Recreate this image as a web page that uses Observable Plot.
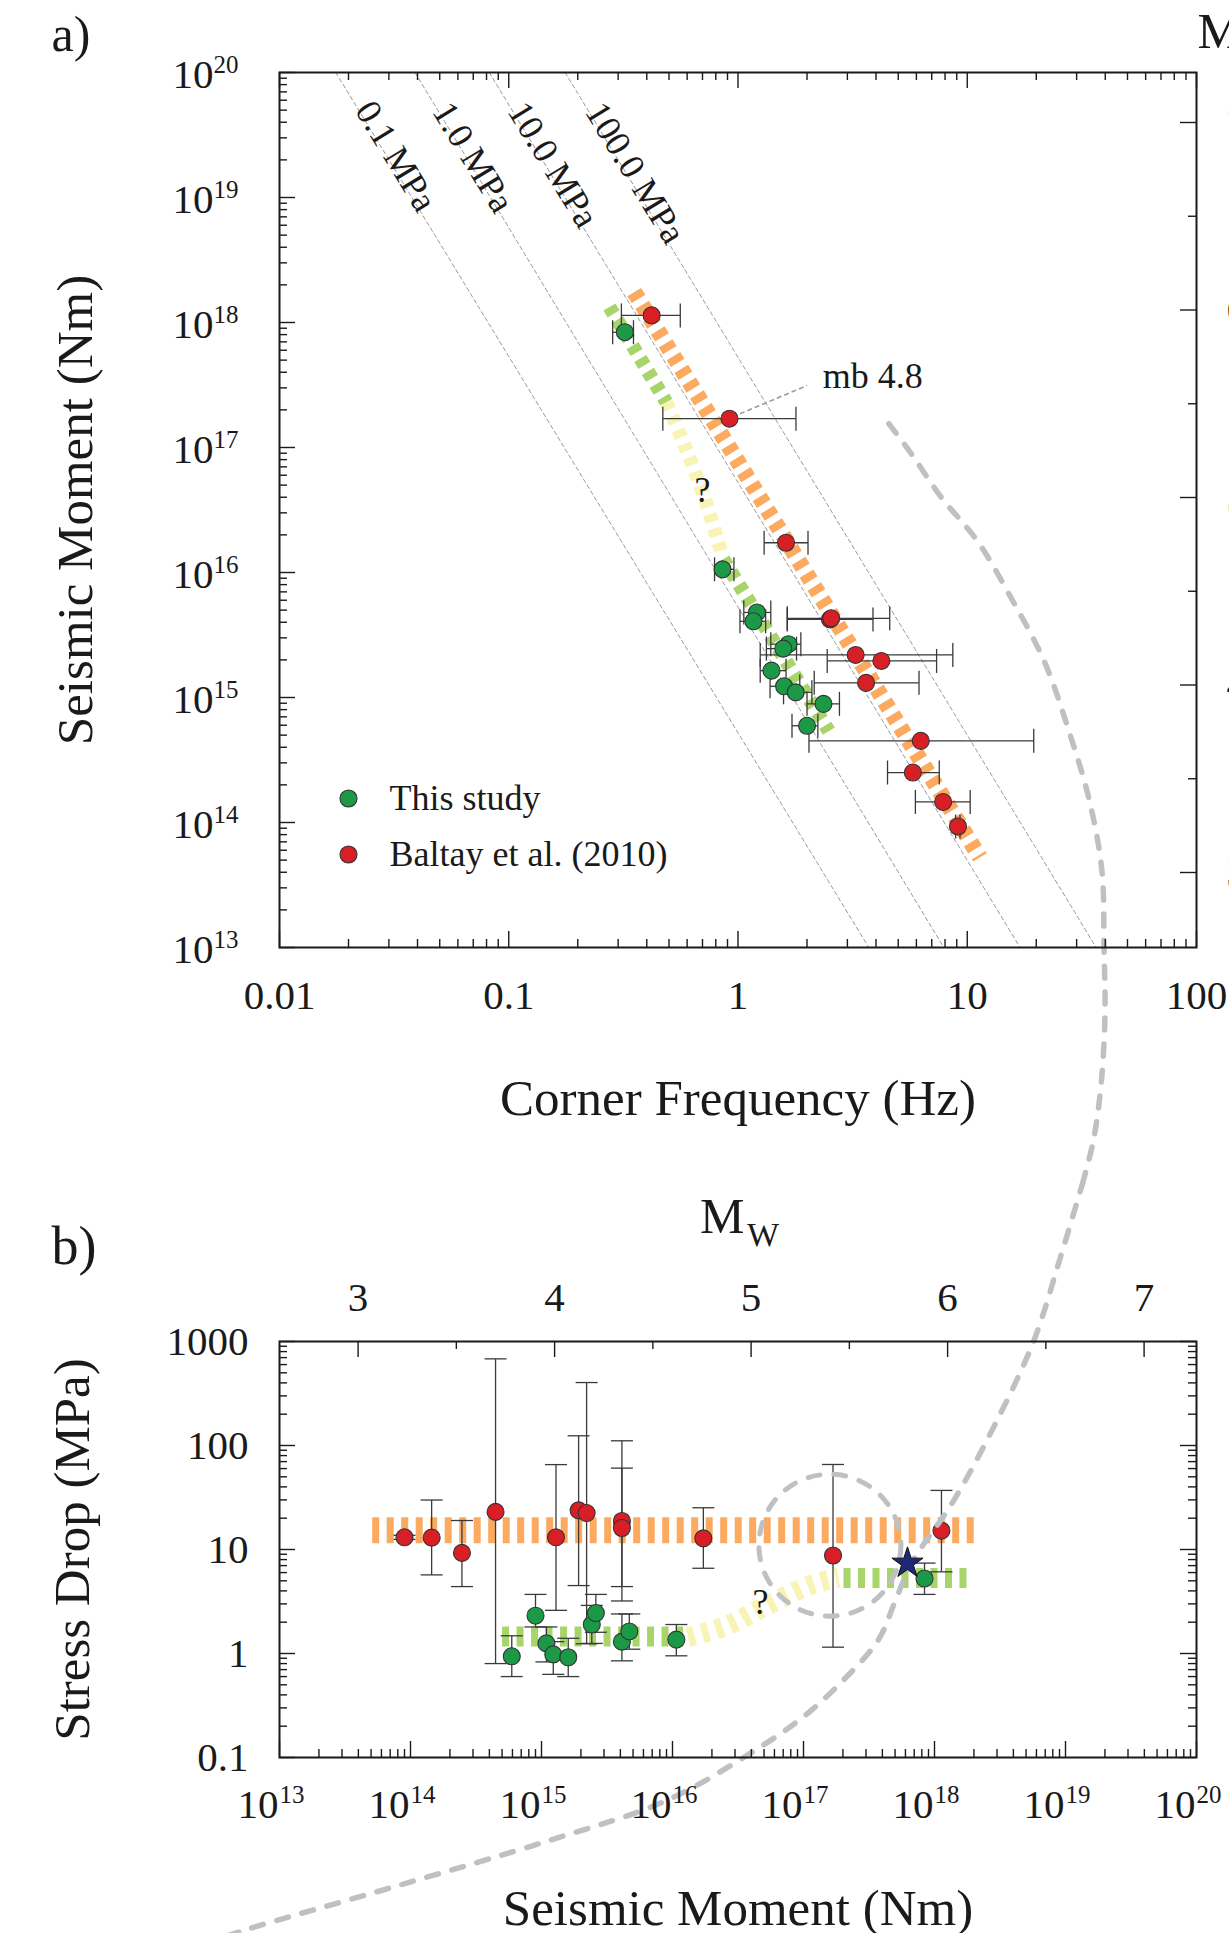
<!DOCTYPE html>
<html><head><meta charset="utf-8">
<script src="https://cdn.jsdelivr.net/npm/d3@7"></script>
<script src="https://cdn.jsdelivr.net/npm/@observablehq/plot@0.6"></script>
<style>
body{margin:0;background:#fff;}
#wrap{position:relative;width:1229px;height:1933px;overflow:hidden;background:#fff;}
#wrap svg{position:absolute;left:0;}
</style></head><body><div id="wrap"></div>
<script>
// ================= DATA =================
// Panel a: corner frequency (Hz) vs seismic moment (Nm)
const studyFc   = [0.321, 0.856, 1.21, 1.168, 1.66, 1.576, 1.40, 1.589, 1.785, 2.36, 2.00];
const studyM0a  = [8.36e17, 1.06e16, 4.79e15, 4.07e15, 2.67e15, 2.46e15, 1.64e15, 1.23e15, 1.10e15, 8.9e14, 5.94e14];
const studyFcLo = [0.284, 0.79, 1.06, 1.02, 1.39, 1.33, 1.25, 1.38, 1.58, 2.00, 1.72];
const studyFcHi = [0.35, 0.96, 1.39, 1.32, 1.88, 1.80, 1.62, 1.86, 2.10, 2.77, 2.23];

const baltayFc   = [0.42, 0.918, 1.62, 2.52, 2.55, 3.26, 4.22, 3.62, 6.27, 5.79, 7.85, 9.11];
const baltayM0a  = [1.14e18, 1.70e17, 1.73e16, 4.21e15, 4.30e15, 2.19e15, 1.96e15, 1.31e15, 4.5e14, 2.51e14, 1.46e14, 9.29e13];
const baltayFcLo = [0.31, 0.47, 1.30, 1.64, 1.64, 1.25, 2.45, 2.15, 2.04, 4.49, 5.94, 8.9];
const baltayFcHi = [0.56, 1.79, 2.02, 3.88, 4.59, 8.65, 7.35, 6.16, 19.5, 7.55, 10.3, 9.3];

// constant stress-drop reference lines (fc where each line meets M0 = 1e20 and 1e13)
const stressLabels   = ["0.1 MPa", "1.0 MPa", "10.0 MPa", "100.0 MPa"];
const stressFcTop    = [0.0176, 0.0390, 0.0822, 0.1762];
const stressFcBottom = [3.72, 7.9, 17.0, 36.5];
const stressLabelFc  = [0.0322, 0.0699, 0.156, 0.356];
const stressLabelM0  = [2.14e19, 2.10e19, 1.83e19, 1.57e19];

// trend bands, panel a
const baltayTrendFc = [0.353, 11.36];
const baltayTrendM0 = [1.75e18, 5.26e13];
const studyUpperFc = [0.275, 0.487];
const studyUpperM0 = [1.33e18, 2.3e17];
const studyGapFc   = [0.487, 0.581, 0.716, 0.855];
const studyGapM0   = [2.3e17, 1.07e17, 3.9e16, 1.35e16];
const studyLowerFc = [0.863, 2.49];
const studyLowerM0 = [1.28e16, 5.39e14];

// mb 4.8 annotation
const mbLabel = "mb 4.8";
const mbTextFc = [2.34], mbTextM0 = [2.97e17];
const mbLeadFc = [1.02, 2.0], mbLeadM0 = [1.86e17, 3.13e17];
const qFcA = [0.70], qM0A = [4.53e16];

// large grey dashed arc: part drawn in panel a coordinates
const arcFc  = [4.55, 5.71, 7.64, 11.13, 15.52, 21.64, 27.76, 34.15, 38.7, 39.5, 39.9, 38.5, 35.5, 32.1];
const arcM0a = [1.55e17, 8.87e16, 4.08e16, 1.76e16, 6.28e15, 1.96e15, 5.39e14, 1.48e14, 4.06e13, 9.82e12, 3.13e12, 8.63e11, 2.86e11, 1.37e11];

// Panel b: seismic moment (Nm) vs stress drop (MPa)
const baltayM0b  = [9.0e13, 1.45e14, 2.47e14, 4.46e14, 1.29e15, 1.92e15, 2.21e15, 4.11e15, 4.11e15, 1.72e16, 1.68e17, 1.13e18];
const baltaySd   = [13.1, 13.0, 9.28, 23.0, 13.1, 23.8, 22.4, 18.8, 16.1, 12.8, 8.76, 15.2];
const baltaySdLo = [12.5, 5.7, 4.4, 0.80, 2.6, 4.5, 1.24, 3.2, 4.4, 6.6, 1.15, 6.1];
const baltaySdHi = [13.7, 29.9, 19.0, 681, 65.5, 124, 403, 111, 60.6, 25.2, 65.7, 37];

const studyM0b  = [5.93e14, 9.0e14, 1.09e15, 1.23e15, 1.60e15, 2.42e15, 2.6e15, 4.11e15, 4.68e15, 1.07e16, 8.39e17];
const studySd   = [0.94, 2.31, 1.25, 0.98, 0.92, 1.90, 2.45, 1.30, 1.63, 1.36, 5.26];
const studySdLo = [0.60, 1.8, 0.83, 0.63, 0.60, 1.25, 1.6, 0.85, 1.1, 0.95, 3.7];
const studySdHi = [1.48, 3.7, 1.8, 1.3, 1.4, 2.9, 3.7, 2.4, 2.4, 1.9, 7.4];

const baltayBandM0 = [5.1e13, 2.0e18], baltayBandSd = [15.3, 15.3];
const studyLowM0   = [5.0e14, 1.31e16], studyLowSd = [1.46, 1.46];
const studyGapM0b  = [1.31e16, 2.54e16, 5.25e16, 1.17e17, 1.85e17];
const studyGapSd   = [1.44, 1.83, 2.9, 4.62, 5.33];
const studyHighM0  = [2.02e17, 2.0e18], studyHighSd = [5.33, 5.33];

const starM0 = [6.22e17], starSd = [7.38];
const circledM0 = [1.59e17], circledSd = [11.0];
const qM0B = [4.7e16], qSdB = [3.09];

// large grey dashed arc: part drawn in panel b coordinates
const arcM0b = [1.37e19, 9.16e18, 5.71e18, 2.87e18, 1.38e18, 6.68e17, 5.0e17, 3.74e17, 2.09e17, 1.01e17, 4.21e16, 9.0e15, 1.14e15, 7.3e13, 5.31e12, 2.5e12];
const arcSd  = [3.53e4, 6494, 1006, 156, 28.6, 7.38, 3.16, 1.36, 0.581, 0.249, 0.116, 0.0386, 0.0159, 0.00566, 0.00217, 0.00156];

// tick labels
const fcTickVals   = [0.01, 0.1, 1, 10, 100];
const fcTickLabels = ["0.01", "0.1", "1", "10", "100"];
const m0Exponents  = ["13", "14", "15", "16", "17", "18", "19", "20"];
const sdTickVals   = [0.1, 1, 10, 100, 1000];
const sdTickLabels = ["0.1", "1", "10", "100", "1000"];
const mwMajor = [3, 4, 5, 6, 7];
const mwMinor = [3.5, 4.5, 5.5, 6.5];
const legendLabels = ["This study", "Baltay et al. (2010)"];
const titles = {xA: "Corner Frequency (Hz)", yA: "Seismic Moment (Nm)", xB: "Seismic Moment (Nm)", yB: "Stress Drop (MPa)", mw: "M", mwSub: "W", a: "a)", b: "b)", q: "?"};

// ================= HELPERS =================
const mw2m0 = mw => Math.pow(10, 1.5 * mw + 9.1);
const idx = n => d3.range(n);
const isMajor = v => Math.abs(Math.log10(v) - Math.round(Math.log10(v))) < 1e-6;
const C = {red: "#d81f26", green: "#1b9947", orange: "#fbaa5f", lgreen: "#a8d46c", yellow: "#f8f4b6", navy: "#1f2878", arc: "#bfc0c4", err: "#3a3a3a", ink: "#1a1a1a"};
const vCap = {draw(ctx, size) { const r = Math.sqrt(size / Math.PI); ctx.moveTo(0, -r); ctx.lineTo(0, r); }};
const hCap = {draw(ctx, size) { const r = Math.sqrt(size / Math.PI); ctx.moveTo(-r, 0); ctx.lineTo(r, 0); }};
const tickStyle = {stroke: C.ink, strokeWidth: 1.4};
const MAJ = 16, MIN = 8;

function ticksX(vals, H, where) {
  return [
    Plot.ruleX(vals.filter(isMajor), {x: d => d, [where === "bottom" ? "insetTop" : "insetBottom"]: H - MAJ, ...tickStyle}),
    Plot.ruleX(vals.filter(v => !isMajor(v)), {x: d => d, [where === "bottom" ? "insetTop" : "insetBottom"]: H - MIN, ...tickStyle})
  ];
}
function ticksY(vals, Wd, where) {
  return [
    Plot.ruleY(vals.filter(isMajor), {y: d => d, [where === "left" ? "insetRight" : "insetLeft"]: Wd - MAJ, ...tickStyle}),
    Plot.ruleY(vals.filter(v => !isMajor(v)), {y: d => d, [where === "left" ? "insetRight" : "insetLeft"]: Wd - MIN, ...tickStyle})
  ];
}
function bandLine(xs, ys, color, w, dash) {
  return Plot.line(idx(xs.length), {x: i => xs[i], y: i => ys[i], stroke: color, strokeWidth: w, strokeDasharray: dash, curve: "catmull-rom", strokeLinecap: "butt"});
}
const svgStyle = {fontFamily: "'Liberation Serif', 'Times New Roman', serif", fontSize: "41px", color: C.ink, background: "transparent"};

// ================= PANEL A =================
const A = {W: 1229, H: 1180, top: 72, left: 279, right: 33, bottom: 233};
const AFh = A.H - A.top - A.bottom, AFw = A.W - A.left - A.right;
const stressData = stressLabels.flatMap((s, i) => [{s, f: stressFcTop[i], m: 1e20}, {s, f: stressFcBottom[i], m: 1e13}]);

const panelA = Plot.plot({
  width: A.W, height: A.H,
  marginTop: A.top, marginLeft: A.left, marginRight: A.right, marginBottom: A.bottom,
  style: svgStyle,
  x: {type: "log", domain: [0.01, 100], axis: null},
  y: {type: "log", domain: [1e13, 1e20], axis: null},
  marks: [
    Plot.line(stressData, {x: "f", y: "m", z: "s", stroke: "#9a9a9a", strokeWidth: 1, strokeDasharray: "4,3"}),
    bandLine(baltayTrendFc, baltayTrendM0, C.orange, 16, "8,7"),
    bandLine(studyUpperFc, studyUpperM0, C.lgreen, 14, "8,7"),
    bandLine(studyGapFc, studyGapM0, C.yellow, 14, "8,7"),
    bandLine(studyLowerFc, studyLowerM0, C.lgreen, 14, "8,7"),
    Plot.line(idx(arcFc.length), {x: i => arcFc[i], y: i => arcM0a[i], curve: "catmull-rom", stroke: C.arc, strokeWidth: 5.5, strokeDasharray: "12,14", strokeLinecap: "round"}),
    Plot.link([0], {x1: mbLeadFc[0], x2: mbLeadFc[1], y1: mbLeadM0[0], y2: mbLeadM0[1], stroke: "#9a9a9a", strokeWidth: 1.6, strokeDasharray: "5,3"}),
    // error bars
    Plot.link(idx(studyFc.length), {x1: i => studyFcLo[i], x2: i => studyFcHi[i], y1: i => studyM0a[i], y2: i => studyM0a[i], stroke: C.err, strokeWidth: 1.3}),
    Plot.dot(idx(studyFc.length), {x: i => studyFcLo[i], y: i => studyM0a[i], symbol: vCap, r: 12, fill: "none", stroke: C.err, strokeWidth: 1.3}),
    Plot.dot(idx(studyFc.length), {x: i => studyFcHi[i], y: i => studyM0a[i], symbol: vCap, r: 12, fill: "none", stroke: C.err, strokeWidth: 1.3}),
    Plot.link(idx(baltayFc.length), {x1: i => baltayFcLo[i], x2: i => baltayFcHi[i], y1: i => baltayM0a[i], y2: i => baltayM0a[i], stroke: C.err, strokeWidth: 1.3}),
    Plot.dot(idx(baltayFc.length), {x: i => baltayFcLo[i], y: i => baltayM0a[i], symbol: vCap, r: 12, fill: "none", stroke: C.err, strokeWidth: 1.3}),
    Plot.dot(idx(baltayFc.length), {x: i => baltayFcHi[i], y: i => baltayM0a[i], symbol: vCap, r: 12, fill: "none", stroke: C.err, strokeWidth: 1.3}),
    Plot.dot(idx(studyFc.length), {x: i => studyFc[i], y: i => studyM0a[i], r: 8.5, fill: C.green, stroke: "#333", strokeWidth: 1.1}),
    Plot.dot(idx(baltayFc.length), {x: i => baltayFc[i], y: i => baltayM0a[i], r: 8.5, fill: C.red, stroke: "#333", strokeWidth: 1.1}),
    // annotations
    Plot.text(idx(stressLabels.length), {x: i => stressLabelFc[i], y: i => stressLabelM0[i], text: i => stressLabels[i], rotate: 58.6, textAnchor: "middle", lineAnchor: "middle", fontSize: 36}),
    Plot.text([mbLabel], {x: () => mbTextFc[0], y: () => mbTextM0[0], text: d => d, textAnchor: "start", lineAnchor: "bottom", fontSize: 36}),
    Plot.text([titles.q], {x: () => qFcA[0], y: () => qM0A[0], text: d => d, lineAnchor: "middle", fontSize: 36}),
    // legend
    Plot.dot([0], {frameAnchor: "bottom-left", dx: 69, dy: -149, r: 8.5, fill: C.green, stroke: "#333", strokeWidth: 1.1}),
    Plot.dot([0], {frameAnchor: "bottom-left", dx: 69, dy: -93, r: 8.5, fill: C.red, stroke: "#333", strokeWidth: 1.1}),
    Plot.text([legendLabels[0]], {frameAnchor: "bottom-left", text: d => d, textAnchor: "start", lineAnchor: "bottom", dx: 110, dy: -137.5, fontSize: 36}),
    Plot.text([legendLabels[1]], {frameAnchor: "bottom-left", text: d => d, textAnchor: "start", lineAnchor: "bottom", dx: 110, dy: -81.5, fontSize: 36}),
    // frame and ticks
    Plot.frame({stroke: C.ink, strokeWidth: 2}),
    ...ticksX(d3.scaleLog().domain([0.01, 100]).ticks(), AFh, "bottom"),
    ...ticksX(d3.scaleLog().domain([0.01, 100]).ticks(), AFh, "top"),
    ...ticksY(d3.scaleLog().domain([1e13, 1e20]).ticks(), AFw, "left"),
    Plot.ruleY(mwMajor, {y: mw2m0, insetLeft: AFw - MAJ, ...tickStyle}),
    Plot.ruleY(mwMinor, {y: mw2m0, insetLeft: AFw - MIN, ...tickStyle}),
    // tick labels
    Plot.text(idx(fcTickVals.length), {x: i => fcTickVals[i], text: i => fcTickLabels[i], frameAnchor: "bottom", lineAnchor: "bottom", dy: 61, fontSize: 41}),
    Plot.text(m0Exponents, {y: d => Math.pow(10, +d), text: () => "10", frameAnchor: "left", textAnchor: "end", lineAnchor: "bottom", dx: -66, dy: 15, fontSize: 41}),
    Plot.text(m0Exponents, {y: d => Math.pow(10, +d), text: d => d, frameAnchor: "left", textAnchor: "start", lineAnchor: "bottom", dx: -66, dy: 0, fontSize: 25}),
    Plot.text(mwMajor, {y: mw2m0, text: d => String(d), frameAnchor: "right", textAnchor: "start", lineAnchor: "middle", dx: 30, fontSize: 41}),
    // titles
    Plot.text([titles.xA], {frameAnchor: "bottom", text: d => d, textAnchor: "middle", lineAnchor: "bottom", dy: 167, fontSize: 51}),
    Plot.text([titles.yA], {frameAnchor: "left", text: d => d, rotate: -90, textAnchor: "middle", lineAnchor: "bottom", dx: -188, fontSize: 51}),
    Plot.text([titles.mw], {frameAnchor: "top-right", text: d => d, textAnchor: "start", lineAnchor: "bottom", dx: 1, dy: -25, fontSize: 50}),
    Plot.text([titles.mwSub], {frameAnchor: "top-right", text: d => d, textAnchor: "start", lineAnchor: "bottom", dx: 46, dy: -12, fontSize: 34}),
    Plot.text([titles.a], {frameAnchor: "top-left", text: d => d, textAnchor: "start", lineAnchor: "bottom", dx: -228, dy: -22, fontSize: 50})
  ]
});
panelA.style.top = "0px";

// ================= PANEL B =================
const B = {W: 1229, H: 753, top: 161, left: 279, right: 33, bottom: 176};
const BFh = B.H - B.top - B.bottom, BFw = B.W - B.left - B.right;

const panelB = Plot.plot({
  width: B.W, height: B.H,
  marginTop: B.top, marginLeft: B.left, marginRight: B.right, marginBottom: B.bottom,
  style: svgStyle,
  x: {type: "log", domain: [1e13, 1e20], axis: null},
  y: {type: "log", domain: [0.1, 1000], axis: null},
  marks: [
    bandLine(baltayBandM0, baltayBandSd, C.orange, 26, "7,7.5"),
    bandLine(studyLowM0, studyLowSd, C.lgreen, 20, "7,7.5"),
    bandLine(studyGapM0b, studyGapSd, C.yellow, 20, "7,7.5"),
    bandLine(studyHighM0, studyHighSd, C.lgreen, 20, "7,7.5"),
    // error bars
    Plot.link(idx(baltayM0b.length), {x1: i => baltayM0b[i], x2: i => baltayM0b[i], y1: i => baltaySdLo[i], y2: i => baltaySdHi[i], stroke: C.err, strokeWidth: 1.3}),
    Plot.dot(idx(baltayM0b.length), {x: i => baltayM0b[i], y: i => baltaySdLo[i], symbol: hCap, r: 11, fill: "none", stroke: C.err, strokeWidth: 1.3}),
    Plot.dot(idx(baltayM0b.length), {x: i => baltayM0b[i], y: i => baltaySdHi[i], symbol: hCap, r: 11, fill: "none", stroke: C.err, strokeWidth: 1.3}),
    Plot.link(idx(studyM0b.length), {x1: i => studyM0b[i], x2: i => studyM0b[i], y1: i => studySdLo[i], y2: i => studySdHi[i], stroke: C.err, strokeWidth: 1.3}),
    Plot.dot(idx(studyM0b.length), {x: i => studyM0b[i], y: i => studySdLo[i], symbol: hCap, r: 11, fill: "none", stroke: C.err, strokeWidth: 1.3}),
    Plot.dot(idx(studyM0b.length), {x: i => studyM0b[i], y: i => studySdHi[i], symbol: hCap, r: 11, fill: "none", stroke: C.err, strokeWidth: 1.3}),
    Plot.dot(idx(baltayM0b.length), {x: i => baltayM0b[i], y: i => baltaySd[i], r: 8.5, fill: C.red, stroke: "#333", strokeWidth: 1.1}),
    Plot.dot(idx(studyM0b.length), {x: i => studyM0b[i], y: i => studySd[i], r: 8.5, fill: C.green, stroke: "#333", strokeWidth: 1.1}),
    // grey dashed annotations
    Plot.dot(idx(circledM0.length), {x: i => circledM0[i], y: i => circledSd[i], r: 71, fill: "none", stroke: C.arc, strokeWidth: 5, strokeDasharray: "12,14", strokeLinecap: "round"}),
    Plot.line(idx(arcM0b.length), {x: i => arcM0b[i], y: i => arcSd[i], curve: "catmull-rom", stroke: C.arc, strokeWidth: 5.5, strokeDasharray: "12,14", strokeLinecap: "round"}),
    Plot.dot(idx(starM0.length), {x: i => starM0[i], y: i => starSd[i], symbol: "star", r: 9.8, fill: C.navy, stroke: "#111", strokeWidth: 1}),
    Plot.text([titles.q], {x: () => qM0B[0], y: () => qSdB[0], text: d => d, lineAnchor: "middle", fontSize: 36}),
    // frame and ticks
    Plot.frame({stroke: C.ink, strokeWidth: 2}),
    ...ticksX(d3.scaleLog().domain([1e13, 1e20]).ticks(), BFh, "bottom"),
    ...ticksY(d3.scaleLog().domain([0.1, 1000]).ticks(), BFw, "left"),
    ...ticksY(d3.scaleLog().domain([0.1, 1000]).ticks(), BFw, "right"),
    Plot.ruleX(mwMajor, {x: mw2m0, insetBottom: BFh - MAJ, ...tickStyle}),
    Plot.ruleX(mwMinor, {x: mw2m0, insetBottom: BFh - MIN, ...tickStyle}),
    // tick labels
    Plot.text(m0Exponents, {x: d => Math.pow(10, +d), text: () => "10", frameAnchor: "bottom", textAnchor: "end", lineAnchor: "bottom", dx: -1, dy: 60, fontSize: 41}),
    Plot.text(m0Exponents, {x: d => Math.pow(10, +d), text: d => d, frameAnchor: "bottom", textAnchor: "start", lineAnchor: "bottom", dx: 0, dy: 45, fontSize: 25}),
    Plot.text(idx(sdTickVals.length), {y: i => sdTickVals[i], text: i => sdTickLabels[i], frameAnchor: "left", textAnchor: "end", lineAnchor: "middle", dx: -31, fontSize: 41}),
    Plot.text(mwMajor, {x: mw2m0, text: d => String(d), frameAnchor: "top", lineAnchor: "bottom", dy: -31, fontSize: 41}),
    // titles
    Plot.text([titles.xB], {frameAnchor: "bottom", text: d => d, textAnchor: "middle", lineAnchor: "bottom", dy: 167, fontSize: 51}),
    Plot.text([titles.yB], {frameAnchor: "left", text: d => d, rotate: -90, textAnchor: "middle", lineAnchor: "bottom", dx: -191, fontSize: 51}),
    Plot.text([titles.mw], {frameAnchor: "top-left", text: d => d, textAnchor: "start", lineAnchor: "bottom", dx: 420.5, dy: -109, fontSize: 50}),
    Plot.text([titles.mwSub], {frameAnchor: "top-left", text: d => d, textAnchor: "start", lineAnchor: "bottom", dx: 467.5, dy: -96, fontSize: 34}),
    Plot.text([titles.b], {frameAnchor: "top-left", text: d => d, textAnchor: "start", lineAnchor: "bottom", dx: -228, dy: -78, fontSize: 54})
  ]
});
panelB.style.top = "1180px";

const wrap = document.getElementById("wrap");
wrap.appendChild(panelA);
wrap.appendChild(panelB);
</script></body></html>
